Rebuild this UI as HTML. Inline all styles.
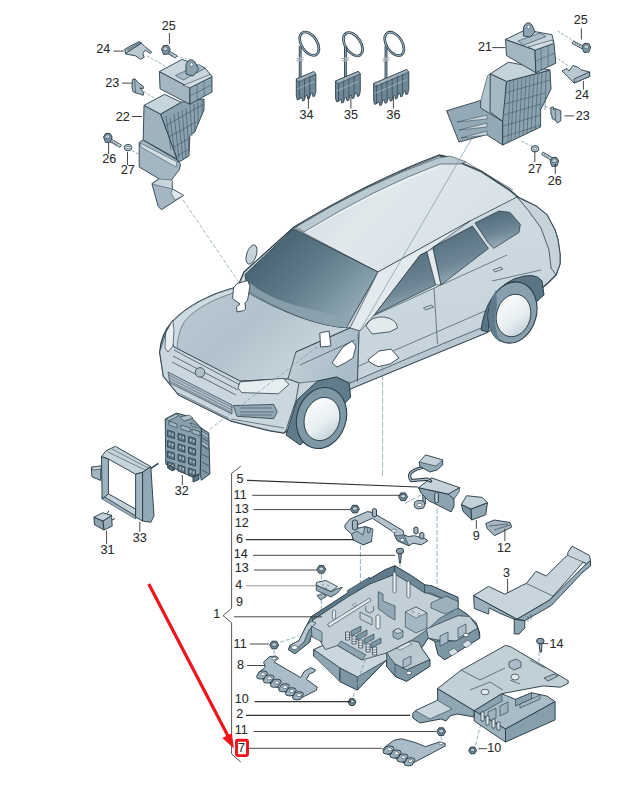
<!DOCTYPE html>
<html><head><meta charset="utf-8"><style>
html,body{margin:0;padding:0;background:#fff;}
body{width:632px;height:790px;overflow:hidden;position:relative;}
svg{position:absolute;left:0;top:0;}
text{font-family:"Liberation Sans",sans-serif;font-size:12px;fill:#2a2a2a;stroke:#2a2a2a;stroke-width:0.08px;}
</style></head><body>
<svg width="632" height="790" viewBox="0 0 632 790">

<g id="car" stroke="#2c3f4a" stroke-linejoin="round">
<defs>
<linearGradient id="roofG" x1="0" y1="0" x2="1" y2="0.5">
<stop offset="0" stop-color="#c6d3db"/><stop offset="0.45" stop-color="#e1e8ec"/><stop offset="1" stop-color="#d6e0e6"/></linearGradient>
<linearGradient id="wsG" gradientUnits="userSpaceOnUse" x1="270" y1="235" x2="355" y2="320">
<stop offset="0" stop-color="#45606f"/><stop offset="0.45" stop-color="#5f7a88"/><stop offset="0.8" stop-color="#819aa7"/><stop offset="1" stop-color="#98adb8"/></linearGradient>
<linearGradient id="hoodG" x1="0" y1="0" x2="1" y2="0.6">
<stop offset="0" stop-color="#bccbd4"/><stop offset="0.5" stop-color="#b1c2cc"/><stop offset="1" stop-color="#cbd7de"/></linearGradient>
<linearGradient id="winG" x1="0.3" y1="0" x2="0.6" y2="1">
<stop offset="0" stop-color="#4f6a79"/><stop offset="0.6" stop-color="#6e8695"/><stop offset="1" stop-color="#a3b6c1"/></linearGradient>
<linearGradient id="fenderG" x1="0" y1="0" x2="1" y2="0.3">
<stop offset="0" stop-color="#c3d1d9"/><stop offset="1" stop-color="#a9bcc7"/></linearGradient>
<linearGradient id="sideG" x1="0" y1="0" x2="0.3" y2="1">
<stop offset="0" stop-color="#d5dfe5"/><stop offset="1" stop-color="#c5d2da"/></linearGradient>
<linearGradient id="rimG" x1="0" y1="0" x2="1" y2="1">
<stop offset="0" stop-color="#ffffff"/><stop offset="0.6" stop-color="#e6edf1"/><stop offset="1" stop-color="#b2c3cd"/></linearGradient>
</defs>
<!-- body silhouette -->
<path fill="url(#sideG)" stroke-width="1.3" d="M244 272L294 227Q370 181 439 155L448 157L481 171L510 190L518 197L536 206L547 215L555 230L558 240L560 254L560 264L556 275L548 283L541 289L538 300L486 333L430 356L350 389L349 394L300 420L292 428L284 433L269 430.5L231 421L178.7 395L163.3 376L159.7 352Q161 334 172 322Q195 298 237.5 287Z"/>
<!-- roof -->
<path fill="url(#roofG)" stroke-width="0.8" d="M294 228Q370 182 439 156L448 158L481 172L510 191L517 197L470 221L378 272Z"/>
<path fill="#b9c9d2" stroke-width="0.6" d="M295.8 227Q370 182 438 158L450 156L466 161.9L460 164L440 164Q375 188 304 232Z"/>
<path fill="none" stroke="#f2f6f8" stroke-width="1" d="M306 232Q376 190 441 166"/>
<path fill="none" stroke-width="0.6" d="M466 162L513 190"/>
<!-- rear hatch -->
<path fill="#c6d3db" stroke-width="0.8" d="M517 197L536 206L547 215L555 230L558 240L560 254L560 264L556 275L551 268L549 250L541 228L528 210Z"/>
<!-- hood -->
<path fill="url(#hoodG)" stroke-width="0.8" d="M243 290Q305 326 350 328L296 352L288 379L240 381L174 347Q167 336 172 322Q195 298 237.5 287Z"/>
<path fill="#cfdbe2" stroke-width="0.5" d="M237.5 287L243 290Q200 302 184 322Q177 335 177 349L174 347Q167 336 172 322Q195 298 237.5 287Z"/>
<!-- windshield -->
<path fill="url(#wsG)" stroke-width="0.9" d="M293.2 229L378 272L346.4 327.7Q305 325 247.7 291L245 274.5Z"/>
<path fill="#8da3af" stroke-width="0" opacity="0.85" d="M250 283Q270 300 310 309Q335 315 350 319L346.4 327.7Q305 325 247.7 291Z"/>
<!-- A pillar -->
<path fill="#e3eaee" stroke-width="0.7" d="M378 272L470 221L427 251.7L420 255.2L374.8 314.4L360 331L350 328Z"/>
<path fill="url(#fenderG)" stroke-width="0.6" d="M350 328L360 331L359 331.8L357.4 382L349 383L336.5 377L317.5 381L299 383L288 379L296 352Z"/>
<!-- front door window -->
<path fill="url(#winG)" stroke-width="0.8" d="M374.8 314.4L420 255.2L427 251.7L435.7 284.8Z"/>
<!-- B pillar -->
<path fill="#e3eaee" stroke-width="0.6" d="M427 251.7L433 248.5L441 284.8L435.7 284.8Z"/>
<!-- rear door window -->
<path fill="url(#winG)" stroke-width="0.8" d="M433 247L472.5 226L488.4 248.5L441 284.8Z"/>
<!-- rear quarter window -->
<path fill="url(#winG)" stroke-width="0.8" d="M475 223L499 211L510 212.4L520.3 224.4L519 232.4L493.8 248.3L488.4 243Z"/>
<!-- side sill -->
<path fill="#b8c7d1" stroke-width="0.7" d="M340 396L350 383L430 349L486 326L538 300L486 333L430 356L350 389Z"/>
<path fill="none" stroke-width="0.6" d="M357.4 366.6L493.2 307.4M434 288.3L437.5 344M359 331.8L357.4 382M492 281L541 270M373 316L507 255"/>
<!-- rear wheel arch -->
<path fill="#5a7585" stroke-width="1" d="M481 330Q486 292 514 279Q535 271 542 281L544 295L536 302Q524 284 504 290Q490 300 488 332Z"/>
<ellipse cx="512.5" cy="312.5" rx="24" ry="31" transform="rotate(15 512.5 312.5)" fill="#88a0ae" stroke-width="1.1"/>
<path fill="#5f7a8a" stroke-width="0" d="M496 290Q486 305 489 325Q492 338 500 342Q492 325 497 305Z"/>
<ellipse cx="513.5" cy="315.5" rx="17" ry="21.5" transform="rotate(15 513.5 315.5)" fill="url(#rimG)" stroke-width="0.9"/>
<!-- front wheel arch -->
<path fill="#607c8c" stroke-width="1" d="M286 435L297 400L317.5 381L336.5 377L349 383L350.7 397L330 420L300 445Z"/>
<ellipse cx="321.5" cy="418" rx="24.5" ry="31" transform="rotate(18 321.5 418)" fill="#7f98a6" stroke-width="1.1"/>
<ellipse cx="322" cy="419" rx="17.5" ry="22" transform="rotate(18 322 419)" fill="url(#rimG)" stroke-width="0.9"/>
<!-- fender -->
<path fill="none" stroke-width="0.6" d="M296 352L350 328M300 365L355 340"/>
<!-- front bumper / grille -->
<path fill="#cbd7df" stroke-width="0.8" d="M174 347L240 381L288 379L299 383L296 400L286 430L284 433L269 430.5L231 421L178.7 395L163.3 376L159.7 352L165.7 333L168 333Z"/>
<path fill="none" stroke-width="0.7" d="M174 350L240 385M173 356L238 390M172 362L236 395"/>
<path fill="#aebfca" stroke-width="0.7" d="M168 372L232 405L232 414L170 383Z"/>
<path fill="none" stroke-width="0.45" d="M169 375L232 407.5M169 378L232 410M169.5 381L232 412.5"/>
<path fill="none" stroke-width="0.6" d="M178 393L229 418.6M231 419L284 428"/>
<circle cx="200" cy="372.4" r="4.8" fill="#aebfc9" stroke-width="0.8"/>
<!-- headlight -->
<path fill="#e6edf1" stroke-width="0.8" d="M240 381.9L283.2 378.3L289 384.3L278.4 393.8L241.6 392.6L238 388Z"/>
<!-- fog light -->
<path fill="#93a9b5" stroke-width="0.8" d="M233.3 405.6L273.7 404.4L277.2 411.6L273.7 418.7L236.9 416.3Z"/>
<path fill="none" stroke-width="0.5" d="M240 408H272M240 412H274M240 415H272"/>
<!-- headlight left -->
<path fill="#e8eef2" stroke-width="0.7" d="M165.7 333L172.7 320L174 330L173 346L168 352L165 348Z"/>
<!-- mirrors -->
<ellipse cx="251.5" cy="254.5" rx="4.8" ry="10" transform="rotate(18 251.5 254.5)" fill="#c6d3db" stroke-width="0.8"/>
<path fill="#e3eaee" stroke-width="0.8" d="M366 326Q370 316 384 317Q397 319 397.4 328L390 331.8L372 334Z"/>
<!-- icons on car -->
<path fill="#fff" stroke-width="0.9" d="M237 283.5L247.6 280.5L250 286L247.6 300L245 303L245.5 309L243.7 310.6L237 312L236.5 307L240 304L232.6 298.6L233.5 288Z"/>
<path fill="#fff" stroke-width="0.9" d="M319.8 333L329 331L331 346L320.5 347Z"/>
<path fill="#fff" stroke-width="0.9" d="M332 363L338 354L343 347L352 341L356 346L353 358L345 363L337 367Z"/>
<path fill="#fff" stroke-width="0.9" d="M367.8 360L379 351L391 349.2L399 358L390 364L378 366.6L371 363Z"/>
<!-- door handles -->
<path fill="none" stroke-width="0.7" d="M423.5 308l8 -3l2 2l-8 3zM493 270l8 -3l2 2l-8 3z"/>
</g>


<g id="carleaders" fill="none" stroke="#7a9aab" stroke-width="0.7">
<path d="M477.8 128L357.5 335L356.5 345"/>
<path d="M209.6 429.4L319.5 345" stroke-dasharray="4 2"/>
<path d="M183 200L238 281" stroke-dasharray="4 2"/>
<path d="M382.5 366V478" stroke-dasharray="6 2"/>
</g>
<g id="p22L" stroke="#2a3e4a" stroke-width="0.9" stroke-linejoin="round">
<!-- dashed leaders -->
<path fill="none" stroke="#6b8ea0" stroke-width="0.7" stroke-dasharray="3 1.5" d="M147 55.9L165.2 66.2M176.2 55.9L186.5 59M143.8 91.5L154.9 98.6M131.8 150.6L139.4 154.4"/>
<!-- clip 24 -->
<path fill="#b9c8d1" d="M128 51.6L141.4 43.1L144.7 46.4L151.8 52.1L150.4 53.5L145.2 50.2L142.8 53.5L144.2 57.3L140.4 59.2L135.7 55.9L125.7 54Z"/>
<path fill="#a3b6c2" d="M124.7 49.2L139 41.6L141.4 43.1L128 51.6L125.7 54Z"/>
<path fill="none" stroke-width="0.6" d="M127 50L140 42.5"/>
<!-- bolt 25 -->
<path fill="#c3d1d9" stroke-width="0.8" d="M166 52.5L175.5 58L177 55.5L167.5 50Z"/>
<path fill="none" stroke-width="0.5" d="M169 52l-1 2.2M171 53.2l-1 2.2M173 54.4l-1 2.2"/>
<path fill="#7d95a4" d="M161.5 49L163.5 45.5L168 45.3L170.2 49L168.5 54L163.5 54.5Z"/>
<ellipse cx="165.3" cy="48.8" rx="2.6" ry="2" fill="#b9c9d2" stroke-width="0.5"/>
<!-- fuse 23 -->
<path fill="#a3b6c2" d="M132.3 79.6L134.7 78.7L139 83.4L143.3 86.3L143.3 88.7L140 88L143.3 92L143.3 95.3L139.5 94L133.3 92L132 88Z"/>
<path fill="none" stroke-width="0.6" d="M134.7 78.7L135.5 92.5"/>
<!-- bolt 26 -->
<path fill="#c3d1d9" stroke-width="0.8" d="M109 141L120 147.5L121.5 145L110.5 138.5Z"/>
<path fill="none" stroke-width="0.5" d="M113 141l-1 2.2M115 142.2l-1 2.2M117 143.4l-1 2.2"/>
<path fill="#7d95a4" d="M103.5 137L105.5 133.5L110 133.3L112.2 137L110.5 142L105.5 142.5Z"/>
<ellipse cx="107.5" cy="136.8" rx="2.6" ry="2" fill="#b9c9d2" stroke-width="0.5"/>
<!-- washer 27 -->
<ellipse cx="128" cy="147.6" rx="3.8" ry="3.2" fill="#b9c9d2"/>
<ellipse cx="128" cy="147.6" rx="1.5" ry="1.2" fill="#fff" stroke-width="0.5"/>
<!-- bracket 22 lower -->
<path fill="#a3b6c2" d="M139.2 142.4L143.2 140L177 160L180.4 163.8L179.6 169.3L171.7 179.6L172.5 189L183.5 195.4L161.4 209.7L158.2 206.5L151.9 183.6L159 178.8L139.2 167Z"/>
<path fill="#d5e0e6" stroke-width="0.5" d="M140 143L177 162L176 167L141 147Z"/>
<path fill="#c8d5dc" stroke-width="0.5" d="M152 184L159 179L172 180L172.5 189Z"/>
<path fill="#dfe7ec" stroke-width="0.5" d="M172.5 189L183.5 195.4L175 200L171 193Z"/>
<!-- main body 22 -->
<path fill="#9fb3bf" d="M144 105.4L160.6 114.1L177.2 159L143.2 140Z"/>
<path fill="#8aa1af" d="M160.6 114.1L181.2 102.2L204 99L204 110L194.6 132.2L189.9 135.3L189 155.9L178.8 162.2L177.2 159Z"/>
<path fill="none" stroke="#3d5360" stroke-width="0.6" d="M165 126L204 104M169 137L196 122M172 148L190 138M175 157L189 149M166 116L171 150M170 118L175 155M174 114L179 158M178 112L183 160M182 110L186 158M186 108L189 152M190 106L192 136M194 104L195 132M198 102L198 124M202 100L202 114"/>
<path fill="#c6d4dc" d="M144 105.4L164.6 94.3L181.2 102.2L160.6 114.1Z"/>
<!-- cap block -->
<path fill="#a3b6c2" d="M159.4 71.6L189.9 87.7L189.9 104.3L160 88.8Z"/>
<path fill="#8fa6b3" d="M189.9 87.7L212 76.6L212 92L189.9 104.3Z"/>
<path fill="none" stroke="#3d5360" stroke-width="0.5" d="M190 96L212 84.5M197 84l0.3 16.5M204 80.5l0.3 15.5"/>
<path fill="#c9d6dd" d="M159.4 71.6L182.1 59.4L205.4 68.3L212 76.6L189.9 87.7Z"/>
<path fill="#a9bcc7" stroke-width="0.6" d="M175.5 75.5L199 64.5L205.4 68.3L183.2 80Z"/>
<path fill="#d5dfe5" stroke-width="0.6" d="M183.2 85.4L210 74.5L212 76.6L189.9 87.7Z"/>
<path fill="#8ca3b1" d="M186 74V64Q190 56.5 195 62L198.7 69.5L193 76Z"/>
<ellipse cx="191.5" cy="64.5" rx="1.6" ry="1.8" fill="#fff" stroke-width="0.5"/>
</g>


<g id="p21R" stroke="#2a3e4a" stroke-width="0.9" stroke-linejoin="round">
<path fill="none" stroke="#6b8ea0" stroke-width="0.7" stroke-dasharray="3 1.5" d="M557.5 31L574 41M554 56.5L569.7 66.5M521.6 92.8L550 109M521.6 141.2L533 146.9"/>
<!-- fin tray -->
<path fill="#93a9b6" d="M446.6 110.8L480.8 100.4L480.8 108L502.7 121.3L502.7 145L486.5 134.6L459 142.1Z"/>
<path fill="#c9d6dd" stroke-width="0.5" d="M457 122L487 115L487 119ZM459 130L487 123L487 127ZM461 138L487 131L487 135Z"/>
<path fill="#b2c3cd" stroke-width="0.6" d="M480.8 100.4L487.5 75.7L490.3 73.8L506.5 81.4L502.7 121.3L480.8 108Z"/>
<!-- main body left face -->
<path fill="#a5b8c4" d="M490.3 73.8L506.5 81.4L502.7 145L502.7 121.3L490 112Z"/>
<!-- grid face -->
<path fill="#8ba2b0" d="M506.5 81.4L550 70L551 89L540.6 109.9L540.6 127L502.7 145L502.7 121.3Z"/>
<path fill="none" stroke="#3d5360" stroke-width="0.55" d="M505 93L550 80M505 104L545 93M504 115L541 104M503 126L541 115M503 137L541 125M510 80L508 142M514 79L511 141M518 78L515 139M522 77L519 137M526 76L523 136M530 75L527 134M534 74L531 132M538 73L535 130M542 72L540 110M546 71L545 110"/>
<path fill="#c4d2da" d="M490.3 73.8L508.4 62.2L523.5 65L550 70L506.5 81.4Z"/>
<!-- cap 21 -->
<path fill="#a3b6c2" d="M505.5 39.4L535 50L535.9 72.7L506.5 55.6Z"/>
<path fill="#8fa6b3" d="M535 50L554 43.2L555.8 63.2L535.9 72.7Z"/>
<path fill="none" stroke="#3d5360" stroke-width="0.5" d="M536 61L555 53M541 48l0.3 22M548 45.5l0.3 21"/>
<path fill="#c9d6dd" d="M505.5 39.4L525.4 29.9L552 34.7L554 43.2L535 50Z"/>
<path fill="#a9bcc7" stroke-width="0.6" d="M518 41L540 33L546 36.5L524 45Z"/>
<path fill="#d5dfe5" stroke-width="0.6" d="M528 47L552 40L554 43.2L535 50Z"/>
<path fill="#8ca3b1" d="M523.5 36V27Q527.5 19.5 532 25L535 32L530 37Z"/>
<ellipse cx="528.5" cy="27" rx="1.6" ry="1.8" fill="#fff" stroke-width="0.5"/>
<!-- bolt 25 -->
<path fill="#c3d1d9" stroke-width="0.8" d="M573.5 41L584 46.5L582.5 49L572 43.5Z"/>
<path fill="none" stroke-width="0.5" d="M576 42l-1 2.2M578 43.2l-1 2.2M580 44.4l-1 2.2"/>
<path fill="#7d95a4" d="M582 47L584 43.5L588.5 43.3L590.7 47L589 52L584 52.5Z"/>
<ellipse cx="586.3" cy="46.8" rx="2.6" ry="2" fill="#b9c9d2" stroke-width="0.5"/>
<!-- clip 24 -->
<path fill="#b9c8d1" d="M562 70.9L567 68.5L569 71L573 65.4L578.6 67.6L580.8 69.8L589.6 72L589.6 76.4L574.1 83L567.5 76.4Z"/>
<path fill="#a3b6c2" d="M574.1 79L589.6 72L589.6 76.4L574.1 83Z"/>
<!-- fuse 23 -->
<path fill="#a3b6c2" d="M550.9 107.4L553.5 107L553.5 109.5L555.3 108.5L560.8 110.8L560.8 120.7L557.5 123L555 120L552 118.5L552 116L550.9 114Z"/>
<path fill="none" stroke-width="0.6" d="M555.3 108.5L555.5 121"/>
<!-- washer 27 -->
<ellipse cx="535" cy="148.8" rx="3.8" ry="3.2" fill="#b9c9d2"/>
<ellipse cx="535" cy="148.8" rx="1.5" ry="1.2" fill="#fff" stroke-width="0.5"/>
<!-- bolt 26 -->
<path fill="#c3d1d9" stroke-width="0.8" d="M543 152L553 158L551.5 160.5L541.5 154.5Z"/>
<path fill="none" stroke-width="0.5" d="M545 153l-1 2.2M547 154.2l-1 2.2M549 155.4l-1 2.2"/>
<path fill="#7d95a4" d="M550 161L552 157.5L556.5 157.3L558.7 161L557 166L552 166.5Z"/>
<ellipse cx="554.3" cy="160.8" rx="2.6" ry="2" fill="#b9c9d2" stroke-width="0.5"/>
</g>

<g id="conns"><ellipse cx="309.3" cy="43.7" rx="7.8" ry="13" transform="rotate(-33 309.3 43.7)" fill="none" stroke="#2a3e4a" stroke-width="2.6"/><ellipse cx="309.3" cy="43.7" rx="7.8" ry="13" transform="rotate(-33 309.3 43.7)" fill="none" stroke="#a3b8c4" stroke-width="1"/><path d="M300.2 46V80" stroke="#2a3e4a" stroke-width="2.8" fill="none"/><path d="M300.2 46V80" stroke="#a3b8c4" stroke-width="0.9" fill="none"/><path d="M296.7 58.8l7 -1.2M296.7 61l7 -1.2" stroke="#fff" stroke-width="1.3"/><path d="M296.7 58.8l7 -1.2M296.7 61l7 -1.2" stroke="#2a3e4a" stroke-width="0.5"/><ellipse cx="353" cy="44.2" rx="7.8" ry="13" transform="rotate(-33 353 44.2)" fill="none" stroke="#2a3e4a" stroke-width="2.6"/><ellipse cx="353" cy="44.2" rx="7.8" ry="13" transform="rotate(-33 353 44.2)" fill="none" stroke="#a3b8c4" stroke-width="1"/><path d="M345.4 46V80" stroke="#2a3e4a" stroke-width="2.8" fill="none"/><path d="M345.4 46V80" stroke="#a3b8c4" stroke-width="0.9" fill="none"/><path d="M341.9 58.8l7 -1.2M341.9 61l7 -1.2" stroke="#fff" stroke-width="1.3"/><path d="M341.9 58.8l7 -1.2M341.9 61l7 -1.2" stroke="#2a3e4a" stroke-width="0.5"/><ellipse cx="394.3" cy="43.9" rx="7.8" ry="13" transform="rotate(-33 394.3 43.9)" fill="none" stroke="#2a3e4a" stroke-width="2.6"/><ellipse cx="394.3" cy="43.9" rx="7.8" ry="13" transform="rotate(-33 394.3 43.9)" fill="none" stroke="#a3b8c4" stroke-width="1"/><path d="M386 46V80" stroke="#2a3e4a" stroke-width="2.8" fill="none"/><path d="M386 46V80" stroke="#a3b8c4" stroke-width="0.9" fill="none"/><path d="M382.5 58.8l7 -1.2M382.5 61l7 -1.2" stroke="#fff" stroke-width="1.3"/><path d="M382.5 58.8l7 -1.2M382.5 61l7 -1.2" stroke="#2a3e4a" stroke-width="0.5"/><g stroke="#23353f" stroke-width="0.8" stroke-linejoin="round"><path fill="#6f8898" d="M296.3 79.0L313.9 71.6L315.9 74.1L315.9 91.6L315.9 91.6L314.7 96.1L312.9 96.6L312.3 93.1L310.7 93.8L309.5 98.3L307.7 98.8L307.1 95.3L305.5 96.0L304.3 100.5L302.5 101.0L301.9 97.5L297.3 100.0L296.3 96.0Z"/><path fill="#9fb3bf" stroke-width="0.6" d="M296.3 79L313.90000000000003 71.608L315.90000000000003 74.108L298.3 82Z"/><path fill="none" stroke-width="0.6" d="M299.3 80.7v19M304.5 78.6v19M309.7 76.4v19"/><path fill="none" stroke="#b9c9d2" stroke-width="0.6" d="M297.3 89L313.90000000000003 81.608"/><path fill="#6f8898" d="M335.5 81.0L358.3 71.4L360.3 73.9L360.3 91.4L360.3 91.4L359.1 95.9L357.3 96.4L356.7 92.9L355.1 93.6L353.9 98.1L352.1 98.6L351.5 95.1L349.9 95.8L348.7 100.3L346.9 100.8L346.3 97.3L344.7 98.0L343.5 102.5L341.7 103.0L341.1 99.5L336.5 102.0L335.5 98.0Z"/><path fill="#9fb3bf" stroke-width="0.6" d="M335.5 81L358.3 71.424L360.3 73.924L337.5 84Z"/><path fill="none" stroke-width="0.6" d="M338.5 82.7v19M343.7 80.6v19M348.9 78.4v19M354.1 76.2v19"/><path fill="none" stroke="#b9c9d2" stroke-width="0.6" d="M336.5 91L358.3 81.424"/><path fill="#6f8898" d="M373.6 83.5L406.8 69.6L408.8 72.1L408.8 89.6L408.8 89.6L407.6 94.1L405.8 94.6L405.2 91.1L403.6 91.7L402.4 96.2L400.6 96.7L400.0 93.2L398.4 93.9L397.2 98.4L395.4 98.9L394.8 95.4L393.2 96.1L392.0 100.6L390.2 101.1L389.6 97.6L388.0 98.3L386.8 102.8L385.0 103.3L384.4 99.8L382.8 100.5L381.6 105.0L379.8 105.5L379.2 102.0L374.6 104.5L373.6 100.5Z"/><path fill="#9fb3bf" stroke-width="0.6" d="M373.6 83.5L406.8 69.556L408.8 72.056L375.6 86.5Z"/><path fill="none" stroke-width="0.6" d="M376.6 85.2v19M381.8 83.1v19M387.0 80.9v19M392.2 78.7v19M397.4 76.5v19M402.6 74.3v19"/><path fill="none" stroke="#b9c9d2" stroke-width="0.6" d="M374.6 93.5L406.8 79.556"/></g></g>
<g id="p32" stroke="#23353f" stroke-width="0.9" stroke-linejoin="round">
<path fill="#7d95a4" d="M201.3 428.1L208.8 433L209.9 473.9L201.3 480.3L200.2 473.9Z"/>
<path fill="none" stroke-width="0.6" d="M202 438L209 442M202 446L209 450M202 454L209 458M202 462L209 466M202 470L209 474"/>
<path fill="#a9bcc7" stroke-width="0.5" d="M201.5 431l7 4.5v3l-7 -4.5zM201.5 441l7 4.5v3l-7 -4.5z"/>
<path fill="#889fad" d="M165.2 419L176.5 413.1L190.5 416.8L201.3 428.1L200.2 473.9L192.1 477.1L165.8 464.2Z"/>
<path fill="#b3c4ce" stroke-width="0.6" d="M166 419l10 -5l3 1.5l-10 5z M180 417l9 -2l4 3l-9 3z M190 423l9 3l2 2l-9 -2z"/>
<path fill="#a3b6c2" stroke-width="0.6" d="M169 421l8 3v4l-8 -3z M181 425l9 3v4l-9 -3z M192 429l8 3v4l-8 -3z"/>
<path fill="#5b7585" stroke-width="0.7" d="M167.5 430.0l7 2.2v6.5l-7 -2.2zM167.5 440.5l7 2.2v6.5l-7 -2.2zM167.5 451.0l7 2.2v6.5l-7 -2.2zM167.5 461.5l7 2.2v6.5l-7 -2.2zM178.0 433.2l7 2.2v6.5l-7 -2.2zM178.0 443.7l7 2.2v6.5l-7 -2.2zM178.0 454.2l7 2.2v6.5l-7 -2.2zM178.0 464.7l7 2.2v6.5l-7 -2.2zM188.5 436.4l7 2.2v6.5l-7 -2.2zM188.5 446.9l7 2.2v6.5l-7 -2.2zM188.5 457.4l7 2.2v6.5l-7 -2.2zM188.5 467.9l7 2.2v6.5l-7 -2.2z"/>
<path fill="#c9d6dd" stroke-width="0.3" d="M168.8 432.0h1.8v3h-1.8zM171.8 433.0h1.8v3h-1.8zM168.8 442.5h1.8v3h-1.8zM171.8 443.5h1.8v3h-1.8zM168.8 453.0h1.8v3h-1.8zM171.8 454.0h1.8v3h-1.8zM168.8 463.5h1.8v3h-1.8zM171.8 464.5h1.8v3h-1.8zM179.3 435.2h1.8v3h-1.8zM182.3 436.2h1.8v3h-1.8zM179.3 445.7h1.8v3h-1.8zM182.3 446.7h1.8v3h-1.8zM179.3 456.2h1.8v3h-1.8zM182.3 457.2h1.8v3h-1.8zM179.3 466.7h1.8v3h-1.8zM182.3 467.7h1.8v3h-1.8zM189.8 438.4h1.8v3h-1.8zM192.8 439.4h1.8v3h-1.8zM189.8 448.9h1.8v3h-1.8zM192.8 449.9h1.8v3h-1.8zM189.8 459.4h1.8v3h-1.8zM192.8 460.4h1.8v3h-1.8zM189.8 469.9h1.8v3h-1.8zM192.8 470.9h1.8v3h-1.8z"/>
<path fill="#5e7888" d="M169 465l4 2v4l-4 -2zM193 477l6 -2.5v5l-6 2.5z"/>
</g>
<g id="p33" stroke="#23353f" stroke-width="0.9" stroke-linejoin="round">
<!-- left tab -->
<path fill="#a3b6c2" d="M91.3 467.2L100.8 466L100.8 480.5L92 476.7Z"/>
<path fill="#c9d6dd" stroke-width="0.6" d="M91.3 467.2L100.8 466L101.5 469L93 470Z"/>
<!-- bottom rail -->
<path fill="#c3d1d9" d="M102.1 495.7L108.4 493.8L135.6 509L135.6 516Z"/>
<path fill="#9fb3bf" stroke-width="0.6" d="M102.1 495.7L135.6 516L135.6 519L102.1 499Z"/>
<!-- left post -->
<path fill="#9fb3bf" d="M101.5 456.5L108.4 459L108.4 493.8L102.1 499Z"/>
<!-- top rail -->
<path fill="#c5d3db" d="M101.5 456.5L105.9 450.8L115.4 446.3L150.8 466.6L142.6 472.3L135.6 474.2L108.4 459Z"/>
<path fill="none" stroke-width="0.5" d="M108 452L145 470M112 449L148 468"/>
<!-- right post -->
<path fill="#a3b6c2" d="M135.6 474.2L142.6 472.3L142.6 521L135.6 517.2Z"/>
<path fill="#93a9b6" d="M142.6 472.3L150.8 466.6L154 516L150.8 522.3L142.6 521Z"/>
<path fill="none" stroke="#23353f" stroke-width="1.5" d="M150.8 468.5L158.4 463.4"/>
</g>
<g id="p31" stroke="#23353f" stroke-width="0.9" stroke-linejoin="round">
<path fill="#8ca3b0" d="M93.9 517.2L103 521L104 530L94.5 524.8Z"/>
<path fill="#9bb0bd" d="M103 521L111.6 515.3L112.2 526.1L104 530Z"/>
<path fill="#c3d1da" d="M93.9 517.2L102.7 512.8L111.6 515.3L103 521Z"/>
<path fill="none" stroke-width="1" d="M107 513.5l2 -2.5M112 520l3 -1.5"/>
</g>
<g id="assy" stroke="#23353f" stroke-width="0.9" stroke-linejoin="round">
<path fill="none" stroke="#7a9aab" stroke-width="0.8" stroke-dasharray="5 2" d="M437 509V590M360.4 545V630M355.5 518V535M321.3 574V582M321.3 599V612M400 562V635M404.9 503.4L421.3 494.8"/>
<!-- part 5 -->
<path fill="#8aa2b0" stroke-width="0.7" d="M422.7 494L425.6 495.5V504L422.7 504Z"/><path fill="#a9bcc7" d="M414.2 505Q414 500.5 419 500.5L423.5 501Q426.5 504 423.5 508L418 509Q414.3 508.5 414.2 505Z"/>
<ellipse cx="419.5" cy="505" rx="2.5" ry="1.6" fill="#fff" stroke-width="0.5"/>
<path fill="#8ca3b1" d="M418.5 487.7L421.3 493.4L428.4 500.5L451.2 511.9L454 506.2L454 499.1L448.4 494.1Z"/>
<path fill="#c5d2da" d="M418.5 487.7L431.3 477.8L459.7 487.7L448.4 494.1Z"/>
<path fill="#9fb4c0" stroke-width="0.7" d="M448.4 494.1L459.7 487.7L459 492L454 499.1Z"/>
<path fill="#b9c9d2" d="M434.8 502V493.5Q436.5 491 438.4 493.5V502Q436.5 504 434.8 502Z"/>
<path fill="none" stroke="#23353f" stroke-width="3.2" stroke-linecap="round" d="M421.3 467.8Q405 472 411.3 480.6L427 479.2L430.6 481"/>
<path fill="none" stroke="#a9bec9" stroke-width="1.3" stroke-linecap="round" d="M421.3 467.8Q405 472 411.3 480.6L427 479.2L430.6 481"/>
<path fill="#93a9b6" d="M419.2 462.1L425.6 455L442.7 460L442.7 465L437 470L429.8 472L419.9 466.4Z"/>
<path fill="#c3d1d9" stroke-width="0.6" d="M419.2 462.1L425.6 455L442.7 460L436 466Z"/>
<!-- part 6 -->
<path fill="#b3c4ce" d="M345 524.9L350 519.1L367.4 511.6L372.4 512.4L403.1 530.7L404 534.9L408.1 536.5L414.7 535.7L425.5 539L428 540.7L421.4 544.8L413.1 543.2L408.9 545.7L397.3 540.7L394.8 535.7L394 532.4L372.4 518.3L357.4 524.9L358.3 528.2L364.9 526.6L370.7 528.2L371.5 541.5L363.2 544.8L353.3 539.9L351.6 534L345 528.2Z"/>
<path fill="#9fb3bf" stroke-width="0.7" d="M351.6 534L357 531L363 535L365 527L368 527.5L367.5 532.5L369.5 533L370.7 528.2L373 529L371.5 541.5L363.2 544.8L353.3 539.9Z"/>
<path fill="#7d96a4" stroke-width="0.6" d="M394.8 535.7L404 534.9L408.9 545.7L397.3 540.7Z"/>
<path fill="#a3b6c2" d="M372.4 516V509.5Q374.5 507 376.5 509.5V516Q374.5 518 372.4 516Z M413.9 533V528Q416 525.5 418 528V533Q416 535 413.9 533Z M419.7 538V533.5Q421.8 531 423.9 533.5V538Q421.8 540 419.7 538Z M352.4 529V521Q355 518.5 357.4 521V529Q355 531 352.4 529Z"/>
<ellipse cx="394" cy="530.7" rx="2.2" ry="1.5" fill="#fff" stroke-width="0.5"/>
<ellipse cx="402.3" cy="539.9" rx="2.2" ry="1.5" fill="#fff" stroke-width="0.5"/>
<!-- screw 14 -->
<path fill="#9fb3bf" d="M398.5 553L401.5 553L400.5 563L399.5 563Z"/>
<ellipse cx="400" cy="551" rx="3.8" ry="2.8" fill="#8aa1ae"/>
<!-- part 4 -->
<path fill="#9fb3bf" stroke-width="0.8" d="M317 595.5L323.5 593.5L326.5 596.5L320.5 599.8Z"/>
<path fill="#93a9b6" stroke-width="0.8" d="M316 585L331 591.5L337.5 588.5L342.3 587.3L339.5 590.5L337.5 593L331 597L316.5 590.5Z"/>
<path fill="#c9d6dd" stroke-width="0.8" d="M316 585Q315.5 581.5 319 581.8L326 580.5L337.5 586.5L331 591.5Z"/>
<path fill="none" stroke-width="0.5" d="M322 584.5l2 1M327 585l2 1M325 587.5l2 1"/>
<g id="p1">
<path fill="#7f98a6" stroke-width="1" d="M288.3 649.6L289.9 645.5L299 640.6L306.4 625.8L311.3 616.7L347.5 593.2L369.6 579L385 569.9L394.9 565.8L411.6 575.8L424.8 584.9L431.5 585.8L446.4 592.4L458 597.4L458 608.2L468 614.8L476.3 623.1L479.7 633.1L479.7 638.1L444.8 659.7L438.1 654.7L434.8 641.4L428.2 638.1L421.5 648.1L429.8 659.7L429.8 666.3L406.6 681.3L395 676.3L386.6 666.3L386.6 660L357.4 690L340.1 681.7L339.3 670.2L313.8 656.2L313.8 649.6L322.8 645.5L319.5 639L311.3 635.7L309.7 642.2L294.9 653.8Z"/>
<path fill="#c2cfd7" stroke-width="0.6" d="M312.7 620.1L347.5 597L369.6 584L395 574.2L410 583L424 592L446 600L452 606L452 612L440 618L428 629L412 640L386.6 653L370 660L350 668L339 662L325 650L322.8 645.5L319.5 639L311.3 633Z"/>
<!-- back wall inner face -->
<path fill="#5f7a8a" stroke-width="0.6" d="M311.3 616.7L347.5 593.2L347.5 590.5L369.6 577L369.6 579L385 569.9L394.9 565.8L395 574.2L369.6 584L347.5 597L312.7 620.1Z"/>
<path fill="#6f8999" stroke-width="0.6" d="M394.9 565.8L411.6 575.8L424.8 584.9L424.8 593L411 584L395 574.2Z"/>
<path fill="#7b94a3" stroke-width="0.6" d="M424.8 584.9L431.5 585.8L446.4 592.4L458 597.4L458 605L446 600L431 593L424.8 593Z"/>
<!-- ridge on floor -->
<path fill="#e3eaee" stroke-width="0.6" d="M327.7 624L369.6 598L371 600.5L329 627Z"/>
<!-- vertical plate -->
<path fill="#93a9b6" stroke-width="0.6" d="M378.3 591.6L383 594L383 601L395 606L395 620L388 616L383 612L378.3 609Z"/>
<!-- posts -->
<path fill="#e8eef1" stroke-width="0.6" d="M332.4 618.5V611Q334 608.5 335.6 611V618.5Q334 620 332.4 618.5Z M376 628V616Q378 613.5 380 616V628Q378 630 376 628Z M393 592V573Q394.5 571 396.1 573V592Q394.5 594 393 592Z M406.9 597V582Q408.5 580 410 582V597Q408.5 599 406.9 597Z"/>
<ellipse cx="354.6" cy="605" rx="1.8" ry="1.3" fill="#fff" stroke-width="0.5"/>
<path fill="none" stroke-width="0.6" d="M365.7 606v5l4 2l4 -2v-5M360 612L372 618L372 625L360 619Z"/>
<!-- raised block with holes -->
<path fill="#a4b7c3" stroke-width="0.6" d="M405.3 612L416 607L427 613L427 628L416 633L405.3 627Z"/>
<path fill="#cbd7de" stroke-width="0.5" d="M405.3 612L416 607L427 613L416 618Z"/>
<ellipse cx="413" cy="612" rx="1.4" ry="1" fill="#fff" stroke-width="0.4"/><ellipse cx="419" cy="614.5" rx="1.4" ry="1" fill="#fff" stroke-width="0.4"/>
<path fill="#9db1bd" stroke-width="0.6" d="M431 603L446 596L458 601.5L458 608.2L445 614L431 608Z"/>
<path fill="#9db1bd" stroke-width="0.6" d="M393 631l5 -2.5l5 2.5v6l-5 2.5l-5 -2.5z"/>
<path fill="#cbd7de" stroke-width="0.5" d="M393 631l5 -2.5l5 2.5l-5 2.5z"/>
<!-- left arm -->
<path fill="#b9c8d1" stroke-width="0.7" d="M289.9 645.5L299 640.6L306.4 625.8L311.3 620.9L316 623L309 630L304 642L294.9 650Z"/>
<ellipse cx="294.5" cy="647.5" rx="3" ry="2" fill="#fff" stroke-width="0.6"/>
<path fill="#9fb3bf" stroke-width="0.6" d="M311.3 626L322 632L322 642L312 637Z"/>
<!-- front-left platform -->
<path fill="#cbd7de" stroke-width="0.7" d="M313.8 649.6L322.8 645.5L325.3 649.6L337.6 645.5L362 660L386.6 653L386.6 660L357.4 677L340 668Z"/>
<path fill="#8ea5b2" stroke-width="0.6" d="M313.8 649.6L340 668L339.3 681L313.8 656.2Z"/>
<path fill="#7d96a4" stroke-width="0.6" d="M340 668L357.4 677L357.4 690L340.1 681.7Z"/>
<path fill="#8ea5b2" stroke-width="0.6" d="M337.6 645.5L341 641L366 655L362 660Z"/>
<!-- springs -->
<path fill="#e1e8ec" stroke-width="0.7" d="M345.5 632h4v8h-4zM352 636h4v8h-4zM358.7 640h4v8h-4zM366 644h4v8h-4zM372.6 647h4v8h-4z"/>
<path fill="none" stroke-width="0.5" d="M345.5 635h4M345.5 637.5h4M352 639h4M352 641.5h4M358.7 643h4M358.7 645.5h4M366 647h4M366 649.5h4M372.6 650h4M372.6 652.5h4"/>
<path fill="#7f98a6" stroke-width="0.6" d="M351 631l10 -5v5l-10 5zM357 635l10 -5v5l-10 5zM364 639l10 -5v5l-10 5zM371 643l10 -5v5l-10 5z"/>
<!-- right platform with foot -->
<path fill="#bfcdd6" stroke-width="0.7" d="M426.5 629L448.1 619.8L458 615.7L469.7 616.5L478 628.1L456 641L438 640L428.2 638.1Z"/>
<path fill="#7d96a4" stroke-width="0.6" d="M434.8 641.4L456 641L478 628.1L479.7 638.1L444.8 659.7L438.1 654.7Z"/>
<path fill="#a9bcc7" stroke-width="0.6" d="M440 636l8 -4v10l-8 4zM458 628l8 -4v10l-8 4z"/>
<path fill="#d5dfe5" stroke-width="0.5" d="M448 652l6 -4l4 4l-6 4zM462 644l6 -4l4 4l-6 4z"/>
<ellipse cx="466" cy="635" rx="2.5" ry="1.8" fill="#fff" stroke-width="0.6"/>
<!-- bottom-front mount -->
<path fill="#b9c8d1" stroke-width="0.7" d="M386.6 653L411.6 640.6L419 642.2L421.5 648.1L429.8 659.7L406.6 670L395 664Z"/>
<path fill="#7d96a4" stroke-width="0.6" d="M395 664L406.6 670L429.8 659.7L429.8 666.3L406.6 681.3L395 676.3Z"/>
<path fill="#a9bcc7" stroke-width="0.6" d="M403 660l8 -4v8l-8 4z"/>
<path fill="#dfe7ec" stroke-width="0.5" d="M397 648l12 -6l3 2l-12 6z"/>
<ellipse cx="409" cy="673" rx="2.5" ry="1.8" fill="#fff" stroke-width="0.6"/>
</g>
<g><path fill="#6f8898" d="M398.6 496.7l2.25 -3.8249999999999997h4.5l2.25 3.8249999999999997l-2.25 3.8249999999999997h-4.5z"/><ellipse cx="403.1" cy="496.2" rx="2.475" ry="1.8" fill="#c7d4dc" stroke-width="0.6"/></g><g><path fill="#6f8898" d="M350.4 509.1l2.25 -3.8249999999999997h4.5l2.25 3.8249999999999997l-2.25 3.8249999999999997h-4.5z"/><ellipse cx="354.9" cy="508.6" rx="2.475" ry="1.8" fill="#c7d4dc" stroke-width="0.6"/></g><g><path fill="#6f8898" d="M316.8 569.4l2.25 -3.8249999999999997h4.5l2.25 3.8249999999999997l-2.25 3.8249999999999997h-4.5z"/><ellipse cx="321.3" cy="568.9" rx="2.475" ry="1.8" fill="#c7d4dc" stroke-width="0.6"/></g></g>
<g id="assy2" stroke="#23353f" stroke-width="0.9" stroke-linejoin="round">
<path fill="none" stroke="#7a9aab" stroke-width="0.8" stroke-dasharray="4 2" d="M280.2 642.2L298.5 636.1M274.2 650V658M475.5 745.3L482.6 716.8M353 697L366 657M441.2 736V742M539 652V668"/>
<path fill="#a9bcc7" d="M263.6 662.1L269.7 656.6L275.8 656L278.6 658.3L275.8 660.5L274.2 662.1L300.7 677.6L304.1 671.5L310.7 667.7L315.7 669.9L314 672.1L309.6 673.8L306.3 679.3L317.3 687.1L316.2 690.4L298.5 699.2L294.1 697L257.5 676L258.6 672.7L265.3 667.1Z"/>
<ellipse cx="274" cy="658.5" rx="2" ry="1.3" fill="#fff" stroke-width="0.5"/>
<path fill="#9cb1be" stroke-width="0.9" d="M258.5 673.5q0 -2.5 3.5 -2.5h2q3.5 0 3.5 2.5l-2 3q0 2.5 -3.5 2.5h-2q-3.5 0 -3.5 -2.5z"/><ellipse cx="263" cy="674.3" rx="2.2" ry="1.5" fill="#fff" stroke-width="0.5"/><path fill="#9cb1be" stroke-width="0.9" d="M265.1 677.5q0 -2.5 3.5 -2.5h2q3.5 0 3.5 2.5l-2 3q0 2.5 -3.5 2.5h-2q-3.5 0 -3.5 -2.5z"/><ellipse cx="269.6" cy="678.3" rx="2.2" ry="1.5" fill="#fff" stroke-width="0.5"/><path fill="#9cb1be" stroke-width="0.9" d="M272.3 681.8q0 -2.5 3.5 -2.5h2q3.5 0 3.5 2.5l-2 3q0 2.5 -3.5 2.5h-2q-3.5 0 -3.5 -2.5z"/><ellipse cx="276.8" cy="682.5999999999999" rx="2.2" ry="1.5" fill="#fff" stroke-width="0.5"/><path fill="#9cb1be" stroke-width="0.9" d="M280.6 686.3q0 -2.5 3.5 -2.5h2q3.5 0 3.5 2.5l-2 3q0 2.5 -3.5 2.5h-2q-3.5 0 -3.5 -2.5z"/><ellipse cx="285.1" cy="687.0999999999999" rx="2.2" ry="1.5" fill="#fff" stroke-width="0.5"/><path fill="#9cb1be" stroke-width="0.9" d="M287.3 690.3q0 -2.5 3.5 -2.5h2q3.5 0 3.5 2.5l-2 3q0 2.5 -3.5 2.5h-2q-3.5 0 -3.5 -2.5z"/><ellipse cx="291.8" cy="691.0999999999999" rx="2.2" ry="1.5" fill="#fff" stroke-width="0.5"/><path fill="#9cb1be" stroke-width="0.9" d="M294.5 694.3q0 -2.5 3.5 -2.5h2q3.5 0 3.5 2.5l-2 3q0 2.5 -3.5 2.5h-2q-3.5 0 -3.5 -2.5z"/><ellipse cx="299" cy="695.0999999999999" rx="2.2" ry="1.5" fill="#fff" stroke-width="0.5"/><g><path fill="#6f8898" d="M269.7 645l2.25 -3.8249999999999997h4.5l2.25 3.8249999999999997l-2.25 3.8249999999999997h-4.5z"/><ellipse cx="274.2" cy="644.5" rx="2.475" ry="1.8" fill="#c7d4dc" stroke-width="0.6"/></g><g><path fill="#6f8898" d="M348 702l2.0 -3.4h4l2.0 3.4l-2.0 3.4h-4z"/><ellipse cx="352" cy="701.5" rx="2.2" ry="1.6" fill="#c7d4dc" stroke-width="0.6"/></g><g><path fill="#6f8898" d="M436.7 731.6l2.25 -3.8249999999999997h4.5l2.25 3.8249999999999997l-2.25 3.8249999999999997h-4.5z"/><ellipse cx="441.2" cy="731.1" rx="2.475" ry="1.8" fill="#c7d4dc" stroke-width="0.6"/></g><g><path fill="#6f8898" d="M468.6 750.4l2.0 -3.4h4l2.0 3.4l-2.0 3.4h-4z"/><ellipse cx="472.6" cy="749.9" rx="2.2" ry="1.6" fill="#c7d4dc" stroke-width="0.6"/></g>
<!-- part 2 -->
<path fill="#8fa6b3" d="M412.8 713.3L415.4 710.7L437.6 700.3L437.6 688.5L474.2 710.7L474.2 717L457 714L450 716L446 721L441 719L420 723L412.8 718Z"/>
<path fill="#c8d5dc" stroke-width="0.6" d="M415.4 710.7L437.6 700.3L452 709L430 719Z"/>
<path fill="#a9bcc7" d="M474.2 710.7L501.6 693.7L515.5 699.4L531.6 692.8L546.8 696L555.1 701.6L505.5 729L474.2 711Z"/>
<path fill="#8aa2b0" stroke-width="0.6" d="M474.2 710.7L501.6 693.7L502.2 701L478 715Z M515.5 699.4L531.6 692.8L531.6 699L515.5 706Z"/>
<path fill="#9fb3bf" stroke-width="0.6" d="M488 712l8 -4v10l-8 4z M500 706l8 -4v10l-8 4z M520 704l20 -9v4l-20 9z"/>
<path fill="#9db2bf" d="M474.2 710.7L505.5 729L505.5 742L474.2 721Z"/>
<path fill="#879fad" d="M505.5 729L555.1 701.6L555.1 719.9L505.5 742Z"/>
<path fill="#c1cfd7" d="M437.6 688.5L461.1 670.2L505.5 645.4L510.7 646.7L568.2 680.7L568.2 683.3L560.4 687.2L543.4 685.9L501.6 693.7L474.2 710.7Z"/>
<path fill="none" stroke-width="0.6" d="M461 670L480 680L505 668M470 690L490 682L503 690M510 680L520 684M530 660L545 668"/>
<path fill="#a9bcc7" stroke-width="0.7" d="M509 662l7 -3l5 3v5l-7 3l-5 -3z M544 678l10 -4l4 2l-10 5z"/>
<ellipse cx="515" cy="677" rx="4" ry="3" fill="#e3eaee" stroke-width="0.7"/>
<ellipse cx="485" cy="692" rx="4" ry="2.8" fill="#e3eaee" stroke-width="0.7"/>
<path fill="#dfe7ec" stroke="#23353f" stroke-width="0.7" d="M481 712h3v9h-3zM486 716h3v9h-3zM492 719h3v9h-3zM497 722h3v8h-3z"/>
<!-- part 7 -->
<path fill="#a9bcc7" d="M382.7 749L393.7 740.3L401.6 738.8L415.9 742.7L425.4 746.7L439.6 741.9L445.2 743.5L445.2 746L409.6 764.9L404.8 763.3L384.2 752.2Z"/>
<ellipse cx="441" cy="743.5" rx="2" ry="1.3" fill="#fff" stroke-width="0.5"/>
<path fill="#9cb1be" stroke-width="0.9" d="M385.0 748.5q0 -2.5 3.5 -2.5h2q3.5 0 3.5 2.5l-2 3q0 2.5 -3.5 2.5h-2q-3.5 0 -3.5 -2.5z"/><ellipse cx="389.5" cy="749.3" rx="2.2" ry="1.5" fill="#fff" stroke-width="0.5"/><path fill="#9cb1be" stroke-width="0.9" d="M392.0 752.5q0 -2.5 3.5 -2.5h2q3.5 0 3.5 2.5l-2 3q0 2.5 -3.5 2.5h-2q-3.5 0 -3.5 -2.5z"/><ellipse cx="396.5" cy="753.3" rx="2.2" ry="1.5" fill="#fff" stroke-width="0.5"/><path fill="#9cb1be" stroke-width="0.9" d="M399.0 756.5q0 -2.5 3.5 -2.5h2q3.5 0 3.5 2.5l-2 3q0 2.5 -3.5 2.5h-2q-3.5 0 -3.5 -2.5z"/><ellipse cx="403.5" cy="757.3" rx="2.2" ry="1.5" fill="#fff" stroke-width="0.5"/><path fill="#9cb1be" stroke-width="0.9" d="M406.0 760.3q0 -2.5 3.5 -2.5h2q3.5 0 3.5 2.5l-2 3q0 2.5 -3.5 2.5h-2q-3.5 0 -3.5 -2.5z"/><ellipse cx="410.5" cy="761.0999999999999" rx="2.2" ry="1.5" fill="#fff" stroke-width="0.5"/>
<path fill="#9fb3bf" d="M539 643L542 643L541.5 652L540 652Z"/>
<ellipse cx="540.3" cy="641" rx="3.8" ry="2.8" fill="#8aa1ae"/>
<!-- part 9 relay -->
<path fill="#7d96a5" d="M461.4 504.4L471 509L471.8 520L463 511.4Z"/>
<path fill="#8fa6b3" d="M471 509L487.5 502.7L485.7 514.8L471.8 520Z"/>
<path fill="#c3d1da" d="M461.4 504.4L466.6 495.7L482.2 497.4L487.5 502.7L471 509Z"/>
<!-- part 12 fuse -->
<path fill="#a3b6c2" d="M485.7 523.5L494.4 520L510 522.5L511.8 527L494.4 535.7L487.5 528.8Z"/>
<path fill="none" stroke-width="0.6" d="M489 526L508 524M494 530l16 -5"/>
<!-- part 3 -->
<path fill="#9bb0bd" d="M473.6 595.6L517 619.1L514.2 619.3L498.5 612.7L489.2 607.8L488.5 614.1L474.3 608.5Z"/>
<path fill="#8ea5b2" d="M514.2 619.3L524.8 620.6L524.8 628L519 634L514.2 634Z"/>
<path fill="#93a9b6" d="M517 619.1L549.7 599.9L586.3 563.7L590.5 560.6L590.5 566L583 572L551.2 605.6L524.8 620.6Z"/>
<path fill="#c8d5dc" d="M473.6 595.6L488.5 586.4L504.9 594.2L522.7 585L526.3 583.5L536 571.3L546.2 576L564.8 557.5L567.8 555.4L567.8 552.8L572 546.2L589.4 555.4L590.5 560.6L586.3 563.7L583.3 562L549.7 599.9L517 619.1Z"/>
<path fill="none" stroke-width="0.6" d="M526.3 583.5L553 596M567.8 555.4L585 563"/>
<path fill="none" stroke-width="0.5" d="M528 616v6M531 614v6"/>
</g>
<g id="leaders" stroke="#333" stroke-width="0.9" fill="none">
<!-- top left -->
<path d="M169.4 33V44"/><path d="M113.4 51.1H124"/><path d="M122.1 83.1H132"/>
<path d="M132 116.5H142"/>
<path d="M108.6 142V154"/><path d="M127.5 152V165"/>
<!-- 34 35 36 -->
<path d="M308.4 96.4V108.6"/><path d="M350.9 96.4V108.6"/><path d="M393.4 96.4V108.6"/>
<!-- top right -->
<path d="M492 47.6H505.4"/><path d="M581.4 28.4V39.4"/><path d="M583.4 80.9V89.7"/><path d="M564.6 115.9H574.1"/>
<path d="M534.8 151V162"/><path d="M555.3 164V174"/>
<!-- lower left -->
<path d="M182.3 475V485"/><path d="M139.8 521.8V531.8"/><path d="M106.6 530.7V544"/>
<!-- right column -->
<path d="M476.3 520V528.8"/><path d="M504.9 528.8V541"/><path d="M507.6 579V593"/>
<path d="M540.4 643.6H548"/><path d="M478.3 748.7H486.9"/>
</g>
<g id="colleaders" fill="none" stroke="#333">
<path d="M247 480.3L418 487" stroke-width="1.2"/>
<path d="M252.2 495.3H400" stroke-width="0.9"/>
<path d="M253.5 509.6H350" stroke-width="0.9"/>
<path d="M245.9 539.6H354" stroke-width="1.3"/>
<path d="M253 555.3H395" stroke-width="0.9"/>
<path d="M254 570H317" stroke-width="0.9"/>
<path d="M245.9 585.8H315" stroke="#999" stroke-width="1"/>
<path d="M234 616.8H322" stroke-width="0.9"/>
<path d="M249.8 644H269" stroke-width="0.9"/>
<path d="M247 665.5H265" stroke-width="0.9"/>
<path d="M254.6 701.6H351" stroke-width="1.2"/>
<path d="M245.9 715.4H410" stroke-width="1.4"/>
<path d="M253.5 731.5H436" stroke-width="0.9"/>
<path d="M248.7 748.3H382" stroke-width="0.9"/>
<!-- bracket -->
<path d="M240.8 466.3L231.6 473.4V608.3L223 615.6L231.6 622.7V754L240.8 762" stroke="#444" stroke-width="0.9"/>
</g>
<g id="labels">
<text transform="translate(161.67 29.8) scale(1.05 1)">25</text><text transform="translate(96.17 53.0) scale(1.05 1)">24</text><text transform="translate(105.37 86.7) scale(1.05 1)">23</text>
<text transform="translate(115.67 120.8) scale(1.05 1)">22</text><text transform="translate(102.27 163.3) scale(1.05 1)">26</text><text transform="translate(120.67 174.0) scale(1.05 1)">27</text>
<text transform="translate(299.47 118.6) scale(1.05 1)">34</text><text transform="translate(343.97 118.6) scale(1.05 1)">35</text><text transform="translate(386.47 118.6) scale(1.05 1)">36</text>
<text transform="translate(477.97 51.0) scale(1.05 1)">21</text><text transform="translate(573.87 24.4) scale(1.05 1)">25</text><text transform="translate(574.97 99.0) scale(1.05 1)">24</text><text transform="translate(575.87 120.0) scale(1.05 1)">23</text>
<text transform="translate(528.07 173.0) scale(1.05 1)">27</text><text transform="translate(547.77 185.3) scale(1.05 1)">26</text>
<text transform="translate(174.77 495.3) scale(1.05 1)">32</text><text transform="translate(132.87 541.8) scale(1.05 1)">33</text><text transform="translate(100.57 554.0) scale(1.05 1)">31</text>
<text transform="translate(472.73 540.0) scale(1.05 1)">9</text><text transform="translate(496.97 552.0) scale(1.05 1)">12</text><text transform="translate(503.03 576.8) scale(1.05 1)">3</text>
<text transform="translate(549.47 647.6) scale(1.05 1)">14</text><text transform="translate(487.37 752.4) scale(1.05 1)">10</text>
<text transform="translate(236.43 483.4) scale(1.05 1)">5</text><text transform="translate(233.57 498.5) scale(1.05 1)">11</text><text transform="translate(234.67 512.7) scale(1.05 1)">13</text>
<text transform="translate(234.67 527.0) scale(1.05 1)">12</text><text transform="translate(235.93 542.7) scale(1.05 1)">6</text><text transform="translate(233.87 558.2) scale(1.05 1)">14</text>
<text transform="translate(234.67 572.4) scale(1.05 1)">13</text><text transform="translate(235.23 589.3) scale(1.05 1)">4</text><text transform="translate(235.93 606.0) scale(1.05 1)">9</text>
<text transform="translate(213.23 617.5) scale(1.05 1)">1</text><text transform="translate(233.57 647.5) scale(1.05 1)">11</text><text transform="translate(236.93 669.3) scale(1.05 1)">8</text>
<text transform="translate(234.67 702.7) scale(1.05 1)">10</text><text transform="translate(236.23 718.0) scale(1.05 1)">2</text><text transform="translate(234.67 733.5) scale(1.05 1)">11</text>
<text transform="translate(238.03 751.7) scale(1.05 1)">7</text>
</g>
<rect x="236.5" y="740.3" width="11" height="15.3" rx="1" fill="none" stroke="#f0141c" stroke-width="2.9"/>
<g id="arrow">
<path d="M148.8 584L228.5 737" stroke="#f0141c" stroke-width="3.2" fill="none"/>
<path d="M222.3 738L231.8 733.2L233.9 748.5Z" fill="#f0141c"/>
</g>
</svg>
</body></html>
